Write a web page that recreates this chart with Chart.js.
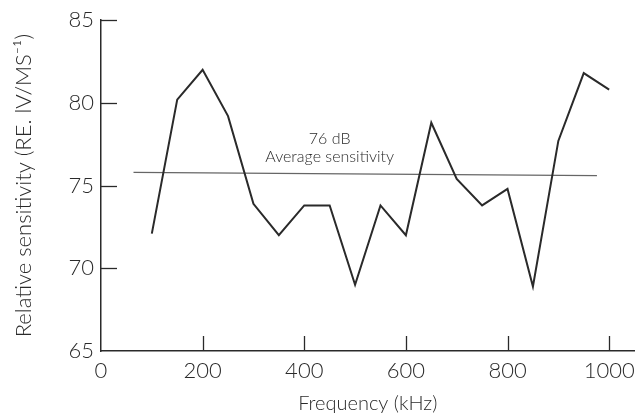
<!DOCTYPE html>
<html>
<head>
<meta charset="utf-8">
<script src="https://cdn.jsdelivr.net/npm/chart.js@4"></script>
<style>
html,body{margin:0;padding:0;background:#fff;}
#wrap{width:642px;height:416px;position:relative;}
</style>
</head>
<body>
<div id="wrap"><canvas id="c" width="642" height="416"></canvas></div>
<script>
const frequencies = [100,150,200,250,300,350,400,450,500,550,600,650,700,750,800,850,900,950,1000];
const sensitivity = [72.1,80.2,82.0,79.2,73.9,72.0,73.8,73.8,69.0,73.8,72.0,78.8,75.4,73.8,74.8,68.9,77.7,81.8,80.8];
const avgFrequencies = [64,976];
const avgSensitivity = [75.8,75.6];
const xTickValues = [0,200,400,600,800,1000];
const yTickValues = [65,70,75,80,85];
const annotationLines = ["76 dB","Average sensitivity"];

const FONT = "Lato";
const INK = "#2a2a2a";

const mainPts = frequencies.map((f,i)=>({x:f,y:sensitivity[i]}));
const avgPts = avgFrequencies.map((f,i)=>({x:f,y:avgSensitivity[i]}));

const innerTicks = {
  id:'innerTicks',
  afterDraw(chart){
    const ctx = chart.ctx, xs = chart.scales.x, ys = chart.scales.y, a = chart.chartArea;
    ctx.save();
    ctx.strokeStyle = INK; ctx.lineWidth = 1.3;
    xs.ticks.forEach(t=>{
      if (t.value === xs.min) return;
      const px = Math.round(xs.getPixelForValue(t.value))+0.5;
      ctx.beginPath(); ctx.moveTo(px,a.bottom); ctx.lineTo(px,a.bottom-15); ctx.stroke();
    });
    ys.ticks.forEach(t=>{
      if (t.value === ys.min) return;
      const py = Math.round(ys.getPixelForValue(t.value))+0.5;
      ctx.beginPath(); ctx.moveTo(a.left,py); ctx.lineTo(a.left+16,py); ctx.stroke();
    });
    // annotation text
    ctx.fillStyle = INK;
    ctx.font = "300 16px " + FONT;
    ctx.textAlign = 'center'; ctx.textBaseline = 'middle';
    const cx = xs.getPixelForValue(450);
    ctx.fillText(annotationLines[0], cx, ys.getPixelForValue(77.8));
    ctx.fillText(annotationLines[1], cx, ys.getPixelForValue(76.72));
    ctx.restore();
  }
};

new Chart(document.getElementById('c'), {
  type: 'line',
  data: {
    datasets: [
      {data: mainPts, borderColor: INK, borderWidth: 2, pointRadius: 0, tension: 0, fill:false},
      {data: avgPts, borderColor: '#666', borderWidth: 1.2, pointRadius: 0, tension: 0, fill:false}
    ]
  },
  options: {
    responsive: false,
    animation: false,
    devicePixelRatio: 1,
    layout: {padding: {top: 17, right: 7, left: 0, bottom: 0}},
    plugins: {legend: {display:false}, tooltip: {enabled:false}},
    scales: {
      x: {
        type: 'linear', min: 0, max: 1050,
        afterBuildTicks(s){ s.ticks = xTickValues.map(v=>({value:v})); },
        afterFit(s){ s.height = 65; },
        grid: {display: true, drawOnChartArea: false, drawTicks: false},
        border: {display: true, color: INK, width: 1.5},
        ticks: {color: INK, padding: 7, maxRotation: 0, callback: v => String(v), font: {family: FONT, size: 22, weight: '300'}},
        title: {display: true, text: 'Frequency (kHz)', color: INK, padding: {top: 2, bottom: 0}, font: {family: FONT, size: 20, weight: '300'}}
      },
      y: {
        type: 'linear', min: 65, max: 85,
        afterBuildTicks(s){ s.ticks = yTickValues.map(v=>({value:v})); },
        afterFit(s){ s.width = 101; },
        grid: {display: true, drawOnChartArea: false, drawTicks: false},
        border: {display: true, color: INK, width: 1.5},
        ticks: {color: INK, padding: 7, callback: v => String(v), font: {family: FONT, size: 22, weight: '300'}},
        title: {display: true, text: 'Relative sensitivity (RE. lV/MS\u207B\u00B9)', color: INK, padding: {top: 11, bottom: 0}, font: {family: FONT, size: 22, weight: '300'}}
      }
    }
  },
  plugins: [innerTicks]
});
</script>
</body>
</html>
